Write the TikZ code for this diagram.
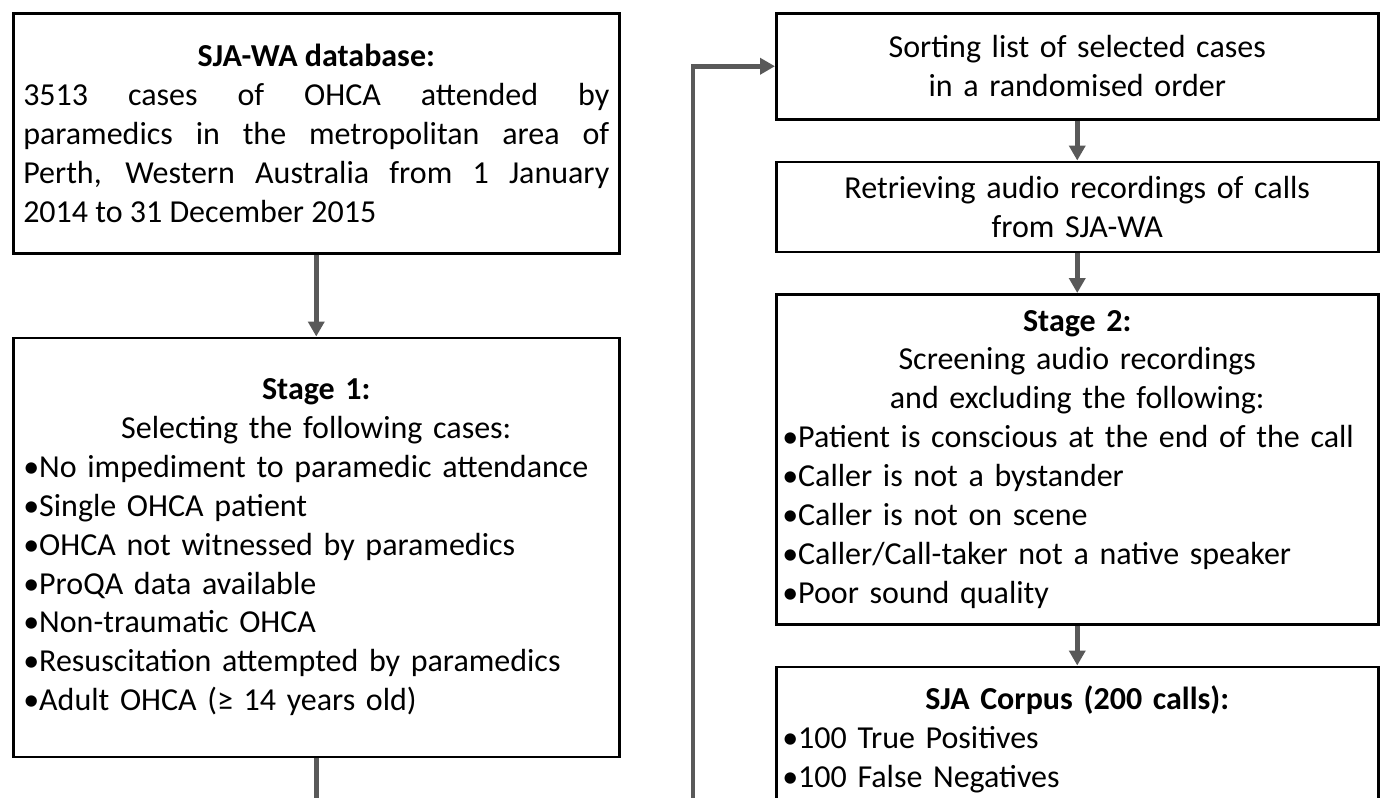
\documentclass[tikz,border=0pt]{standalone}
\usepackage{fontspec}
\setmainfont{Carlito}
\usetikzlibrary{arrows.meta,positioning}
\definecolor{arrowgray}{RGB}{89,89,89}
\hyphenpenalty=10000

\begin{document}
\begin{tikzpicture}[
		x=0.5pt, y=-0.5pt,
		node distance=20pt,
		block/.style={draw, line width=1.25pt, inner xsep=5pt, inner ysep=2pt, font=\fontsize{16}{19.45}\selectfont, minimum width=303pt, text width=293pt},
		rblock/.style={block, minimum width=301pt, text width=295pt, inner xsep=3pt},
		arrow/.style={-{Triangle[length=7.5pt,width=8pt]}, draw=arrowgray, line width=2.25pt},
	]
		\useasboundingbox (0,0) rectangle (1389,798);
		\clip (0,0) rectangle (1389,798);

		% left column
		\node (db) [block, anchor=north west, align=justify, minimum height=120pt] at (12,12)
			{{\centering\textbf{SJA-WA database:}\par}3513 cases of OHCA attended by\linebreak paramedics in the metropolitan area of\linebreak Perth, Western Australia from 1 January\linebreak 2014 to 31 December 2015};
		\node (stage1) [block, below=41pt of db, align=left, minimum height=209.5pt]
			{{\centering\textbf{Stage 1:}\\ Selecting the following cases:\par}
			•No impediment to paramedic attendance\\
			•Single OHCA patient\\
			•OHCA not witnessed by paramedics\\
			•ProQA data available\\
			•Non-traumatic OHCA\\
			•Resuscitation attempted by paramedics\\
			•Adult OHCA (≥ 14 years old)};

		% right column
		\node (sort) [rblock, anchor=north west, align=center, minimum height=53pt] at (775,12)
			{Sorting list of selected cases\\ in a randomised order};
		\node (retr) [rblock, below=of sort, align=center, minimum height=45pt]
			{Retrieving audio recordings of calls\\ from SJA-WA};
		\node (stage2) [rblock, below=of retr, align=left, minimum height=165pt]
			{{\centering\textbf{Stage 2:}\\ Screening audio recordings\\ and excluding the following:\par}
			•Patient is conscious at the end of the call\\
			•Caller is not a bystander\\
			•Caller is not on scene\\
			•Caller/Call-taker not a native speaker\\
			•Poor sound quality};
		\node (corpus) [rblock, below=of stage2, align=left, minimum height=73pt]
			{{\centering\textbf{SJA Corpus (200 calls):}\par}
			•100 True Positives\\
			•100 False Negatives};

		\coordinate (turn) at (693,840);

		\draw[arrow] (db) -- (stage1);
		\draw[arrow] (stage1.south) |- (turn) |- (sort.west);
		\draw[arrow] (sort) -- (retr);
		\draw[arrow] (retr) -- (stage2);
		\draw[arrow] (stage2) -- (corpus);
	\end{tikzpicture}
\end{document}
